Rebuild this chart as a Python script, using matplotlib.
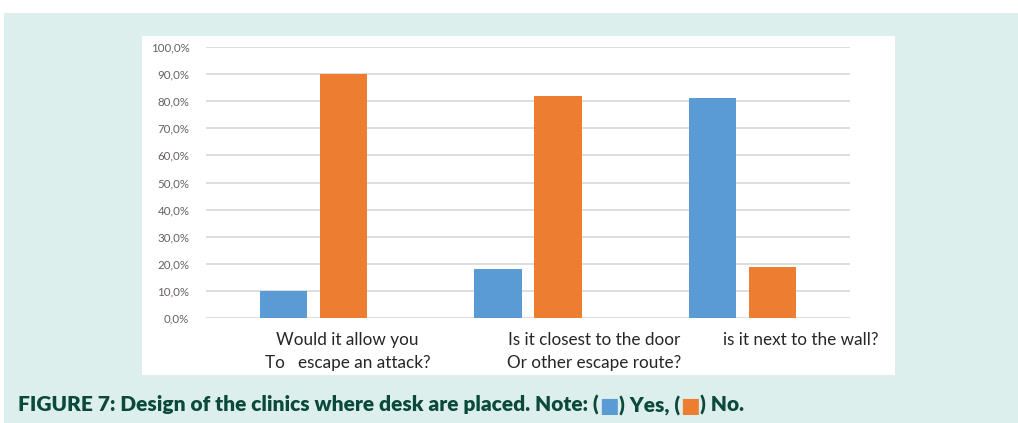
import numpy as np
import matplotlib
matplotlib.use("Agg")
import matplotlib.pyplot as plt
from matplotlib.patches import Rectangle
from matplotlib.ticker import FuncFormatter, MultipleLocator

# data
categories = ["Would it allow you\nTo   escape an attack?",
              "Is it closest to the door\nOr other escape route?",
              "is it next to the wall?\n "]
yes_vals = [10.0, 18.0, 81.0]
no_vals = [90.0, 82.0, 19.0]

BLUE = "#5b9bd5"
ORANGE = "#ed7d31"
TEAL = "#ddefec"
DARK = "#0b4a3b"

fig = plt.figure(figsize=(10.18, 4.23), dpi=100)
fig.patch.set_facecolor("white")

# teal panel and white chart box (figure-pixel layout)
W, H = 1018, 423
fig.add_artist(Rectangle((4 / W, 0), 1 - 4 / W, 1 - 13 / H, transform=fig.transFigure,
                         facecolor=TEAL, edgecolor="none", zorder=0))
fig.add_artist(Rectangle((142 / W, 1 - 375 / H), (895 - 142) / W, (375 - 36) / H,
                         transform=fig.transFigure, facecolor="white", edgecolor="none", zorder=0))

ax = fig.add_axes([206 / W, 1 - 318 / H, (850 - 206) / W, (318 - 47) / H])
ax.set_facecolor("none")
ax.set_zorder(2)

x = np.arange(len(categories))
w = 0.22
ax.bar(x - 0.14, yes_vals, w, color=BLUE, zorder=3)
ax.bar(x + 0.14, no_vals, w, color=ORANGE, zorder=3)

ax.set_xlim(-0.5, len(categories) - 0.5)
ax.set_ylim(0, 100)
ax.yaxis.set_major_locator(MultipleLocator(10))
ax.yaxis.set_major_formatter(FuncFormatter(lambda v, p: f"{v:.1f}%".replace(".", ",")))
ax.grid(axis="y", color="#dedede", linewidth=1.4, zorder=0)
for s in ax.spines.values():
    s.set_visible(False)
ax.tick_params(axis="y", length=0, pad=12, labelsize=8.3, labelcolor="#666060")
for t in ax.get_yticklabels():
    t.set_family(["Lato", "DejaVu Sans"])

# category labels sit to the right of their groups, as in the source
label_pos = x + np.array([0.16, 0.31, 0.27])
ax.set_xticks(label_pos)
ax.set_xticklabels(categories, fontsize=12.3, color="#262626",
                   family=["Lato", "DejaVu Sans"], linespacing=1.55)
ax.tick_params(axis="x", length=0, pad=10)

# caption with coloured squares
fig.canvas.draw()
renderer = fig.canvas.get_renderer()
cap_font = dict(fontsize=15, fontweight="heavy",
                family=["Lato", "DejaVu Sans"], va="baseline")
parts = [("FIGURE 7: Design of the clinics where desk are placed. Note: (", DARK),
         ("■", BLUE), (") Yes, (", DARK), ("■", ORANGE), (") No.", DARK)]
xpos = 18 / W
for txt, col in parts:
    t = fig.text(xpos, 1 - 412 / H, txt, color=col, **cap_font)
    bb = t.get_window_extent(renderer=renderer)
    xpos += bb.width / W

fig.savefig("out.png", dpi=100, facecolor=fig.get_facecolor())
